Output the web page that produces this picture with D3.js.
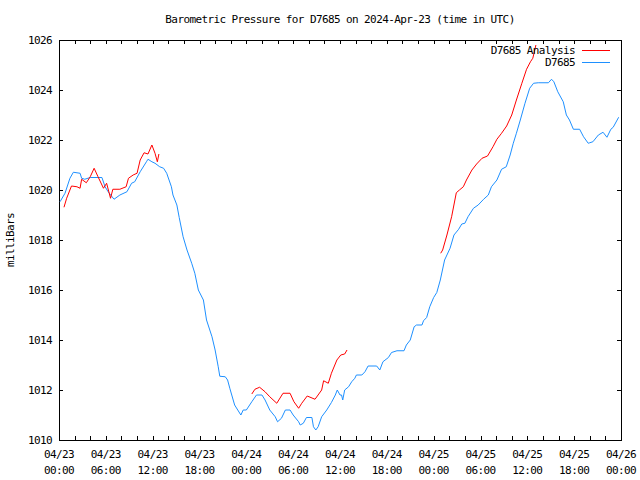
<!DOCTYPE html>
<html><head><meta charset="utf-8">
<script src="https://cdn.jsdelivr.net/npm/d3@7"></script>
<style>
body{margin:0;background:#fff;}
text{font-family:"DejaVu Sans Mono",monospace;font-size:11px;letter-spacing:-0.6px;fill:#000;}
</style></head><body>
<svg id="c" width="640" height="480"></svg>
<script>
const title = "Barometric Pressure for D7685 on 2024-Apr-23 (time in UTC)";
const yLabel = "milliBars";
const seriesNames = ["D7685 Analysis", "D7685"];
const yTicks = [1010, 1012, 1014, 1016, 1018, 1020, 1022, 1024, 1026];
const startTime = Date.UTC(2024, 3, 23, 0, 0);
// hours since 2024-04-23 00:00 UTC
const stationHours = [0.13,0.77,1.4,1.84,2.7,2.9,3.3,4.0,5.5,5.9,6.3,7.05,7.8,8.7,9.3,9.7,10.4,11.2,11.4,11.9,12.3,12.9,13.4,13.8,14.4,14.6,15.1,15.4,15.9,16.4,17.0,17.4,17.85,18.5,18.9,19.6,20.0,20.4,20.6,21.3,21.6,21.9,22.5,23.3,23.6,24.0,24.7,25.3,26.0,26.4,27.0,27.7,28.0,28.5,29.0,29.6,30.0,30.7,30.9,31.3,31.7,32.4,32.6,32.9,33.2,33.65,34.3,34.9,35.4,35.65,36.0,36.2,36.35,36.6,37.1,37.5,37.9,38.1,38.8,39.2,39.6,40.7,41.1,41.5,42.2,42.6,43.3,44.2,44.5,45.0,45.5,45.8,46.5,46.7,47.1,47.5,48.0,48.4,48.85,49.4,50.1,50.6,51.2,51.6,52.0,52.4,53.1,53.7,54.4,55.0,55.4,56.1,56.7,57.3,57.8,58.2,58.6,59.1,59.7,60.3,60.8,61.4,62.7,63.1,63.4,63.9,64.6,65.0,65.4,65.9,66.7,67.2,67.8,68.0,68.4,69.1,69.7,70.2,70.7,71.0,71.7];
const stationValues = [1019.53,1019.87,1020.47,1020.71,1020.67,1020.47,1020.43,1020.5,1020.5,1020.13,1019.93,1019.63,1019.8,1019.93,1020.27,1020.33,1020.73,1021.13,1021.23,1021.13,1021.07,1020.93,1020.87,1020.67,1020.13,1019.8,1019.4,1018.9,1018.13,1017.6,1017.07,1016.67,1016.0,1015.6,1014.8,1014.13,1013.6,1012.93,1012.55,1012.53,1012.4,1012.05,1011.4,1011.0,1011.2,1011.2,1011.53,1011.8,1011.8,1011.6,1011.2,1010.93,1010.73,1010.87,1011.2,1011.2,1011.0,1010.73,1010.6,1010.67,1010.9,1010.9,1010.53,1010.4,1010.53,1010.93,1011.2,1011.5,1011.8,1012.0,1011.8,1011.8,1011.6,1012.0,1012.13,1012.33,1012.47,1012.6,1012.6,1012.73,1012.96,1012.96,1012.8,1013.13,1013.3,1013.5,1013.57,1013.57,1013.8,1014.0,1014.53,1014.6,1014.6,1014.77,1014.9,1015.33,1015.7,1015.9,1016.4,1017.2,1017.67,1018.2,1018.43,1018.64,1018.67,1018.93,1019.27,1019.4,1019.63,1019.8,1020.13,1020.4,1020.83,1020.93,1021.4,1021.87,1022.27,1022.8,1023.47,1024.07,1024.27,1024.29,1024.29,1024.43,1024.33,1023.93,1023.53,1023.0,1022.8,1022.43,1022.43,1022.13,1021.87,1021.89,1021.93,1022.2,1022.31,1022.11,1022.43,1022.51,1022.91];
// analysis series: null marks a gap between runs
const analysisHours = [0.64,0.98,1.6,2.3,2.7,2.9,3.5,4.0,4.5,5.0,5.7,6.1,6.6,6.9,7.8,8.6,8.9,9.5,10.0,10.4,10.9,11.4,11.9,12.3,12.6,12.8,null,24.7,25.1,25.7,26.4,27.0,27.9,28.7,29.6,30.1,30.7,31.1,31.8,32.8,33.65,33.9,34.5,34.9,35.6,36.1,36.6,36.9,null,48.9,49.15,49.7,50.3,50.9,51.3,51.8,52.2,52.9,53.5,54.2,54.9,55.6,56.1,56.7,57.35,58.0,58.6,59.3,59.9,60.4,60.7,60.9,61.1];
const analysisValues = [1019.31,1019.67,1020.16,1020.13,1020.07,1020.43,1020.29,1020.53,1020.87,1020.53,1020.07,1020.27,1019.67,1020.03,1020.03,1020.13,1020.47,1020.6,1020.67,1021.2,1021.49,1021.44,1021.8,1021.47,1021.13,1021.44,null,1011.84,1012.03,1012.11,1011.93,1011.73,1011.47,1011.87,1011.87,1011.53,1011.27,1011.47,1011.76,1011.63,1012.0,1012.37,1012.27,1012.67,1013.2,1013.4,1013.44,1013.6,null,1017.47,1017.6,1018.2,1018.93,1019.89,1020.0,1020.13,1020.4,1020.8,1021.04,1021.27,1021.36,1021.73,1022.03,1022.27,1022.56,1023.0,1023.6,1024.27,1024.83,1025.13,1025.27,1025.53,1025.8];

const L = 59, R = 621, T = 40, B = 440;
const svg = d3.select("#c");
const toDate = h => new Date(startTime + h * 3600e3);
const x = d3.scaleUtc().domain([toDate(0), toDate(72)]).range([L, R]);
const y = d3.scaleLinear().domain([1010, 1026]).range([B, T]);

svg.append("defs").append("clipPath").attr("id","clip")
  .append("rect").attr("x",L).attr("y",T).attr("width",R-L).attr("height",B-T);

const tickEvery2h = d3.utcHour.every(2);
const styleAxis = g => { g.select(".domain").remove(); g.selectAll("line").attr("stroke","#000").attr("shape-rendering","crispEdges"); };
svg.append("g").attr("transform",`translate(0,${B})`)
  .call(d3.axisBottom(x).ticks(tickEvery2h).tickSize(-4).tickFormat("")).call(styleAxis);
svg.append("g").attr("transform",`translate(0,${T})`)
  .call(d3.axisTop(x).ticks(tickEvery2h).tickSize(-4).tickFormat("")).call(styleAxis);
svg.append("g").attr("transform",`translate(${L},0)`)
  .call(d3.axisLeft(y).tickValues(yTicks).tickSize(-4).tickFormat("")).call(styleAxis);
svg.append("g").attr("transform",`translate(${R},0)`)
  .call(d3.axisRight(y).tickValues(yTicks).tickSize(-4).tickFormat("")).call(styleAxis);

// y tick labels
svg.append("g").selectAll("text").data(yTicks).join("text")
  .attr("x", L - 7).attr("y", d => y(d) + 4).attr("text-anchor","end").text(d => d);
// x tick labels (two lines)
const labelTicks = x.ticks(d3.utcHour.every(6));
const fmtD = d3.utcFormat("%m/%d"), fmtT = d3.utcFormat("%H:%M");
const xl = svg.append("g").selectAll("text").data(labelTicks).join("text")
  .attr("text-anchor","middle");
xl.append("tspan").attr("x", d => x(d)).attr("y", 458).text(d => fmtD(d));
xl.append("tspan").attr("x", d => x(d)).attr("y", 474).text(d => fmtT(d));

// frame
svg.append("rect").attr("x",L+0.5).attr("y",T+0.5).attr("width",R-L).attr("height",B-T)
  .attr("fill","none").attr("stroke","#000").attr("stroke-width",1).attr("shape-rendering","crispEdges");

// title and y label
svg.append("text").attr("x", 340).attr("y", 23).attr("text-anchor","middle").text(title);
svg.append("text").attr("transform","translate(14,240) rotate(-90)").attr("text-anchor","middle").text(yLabel);

const line = d3.line().defined(d => d[1] != null).x(d => x(toDate(d[0]))).y(d => y(d[1]));
const plot = svg.append("g").attr("clip-path","url(#clip)");
plot.append("path").datum(stationHours.map((h,i)=>[h, stationValues[i]]))
  .attr("fill","none").attr("stroke","#1e90ff").attr("stroke-width",1).attr("d", line);
plot.append("path").datum(analysisHours.map((h,i)=>[h, analysisValues[i]]))
  .attr("fill","none").attr("stroke","#ff0000").attr("stroke-width",1).attr("d", line);

// legend
const colors = ["#ff0000", "#1e90ff"];
const lg = svg.append("g");
seriesNames.forEach((n, i) => {
  const ly = 50 + i * 12;
  lg.append("text").attr("x", 575).attr("y", ly + 4).attr("text-anchor","end").text(n);
  lg.append("line").attr("x1", 582).attr("x2", 610).attr("y1", ly + 0.5).attr("y2", ly + 0.5)
    .attr("stroke", colors[i]).attr("stroke-width", 1);
});
</script></body></html>
